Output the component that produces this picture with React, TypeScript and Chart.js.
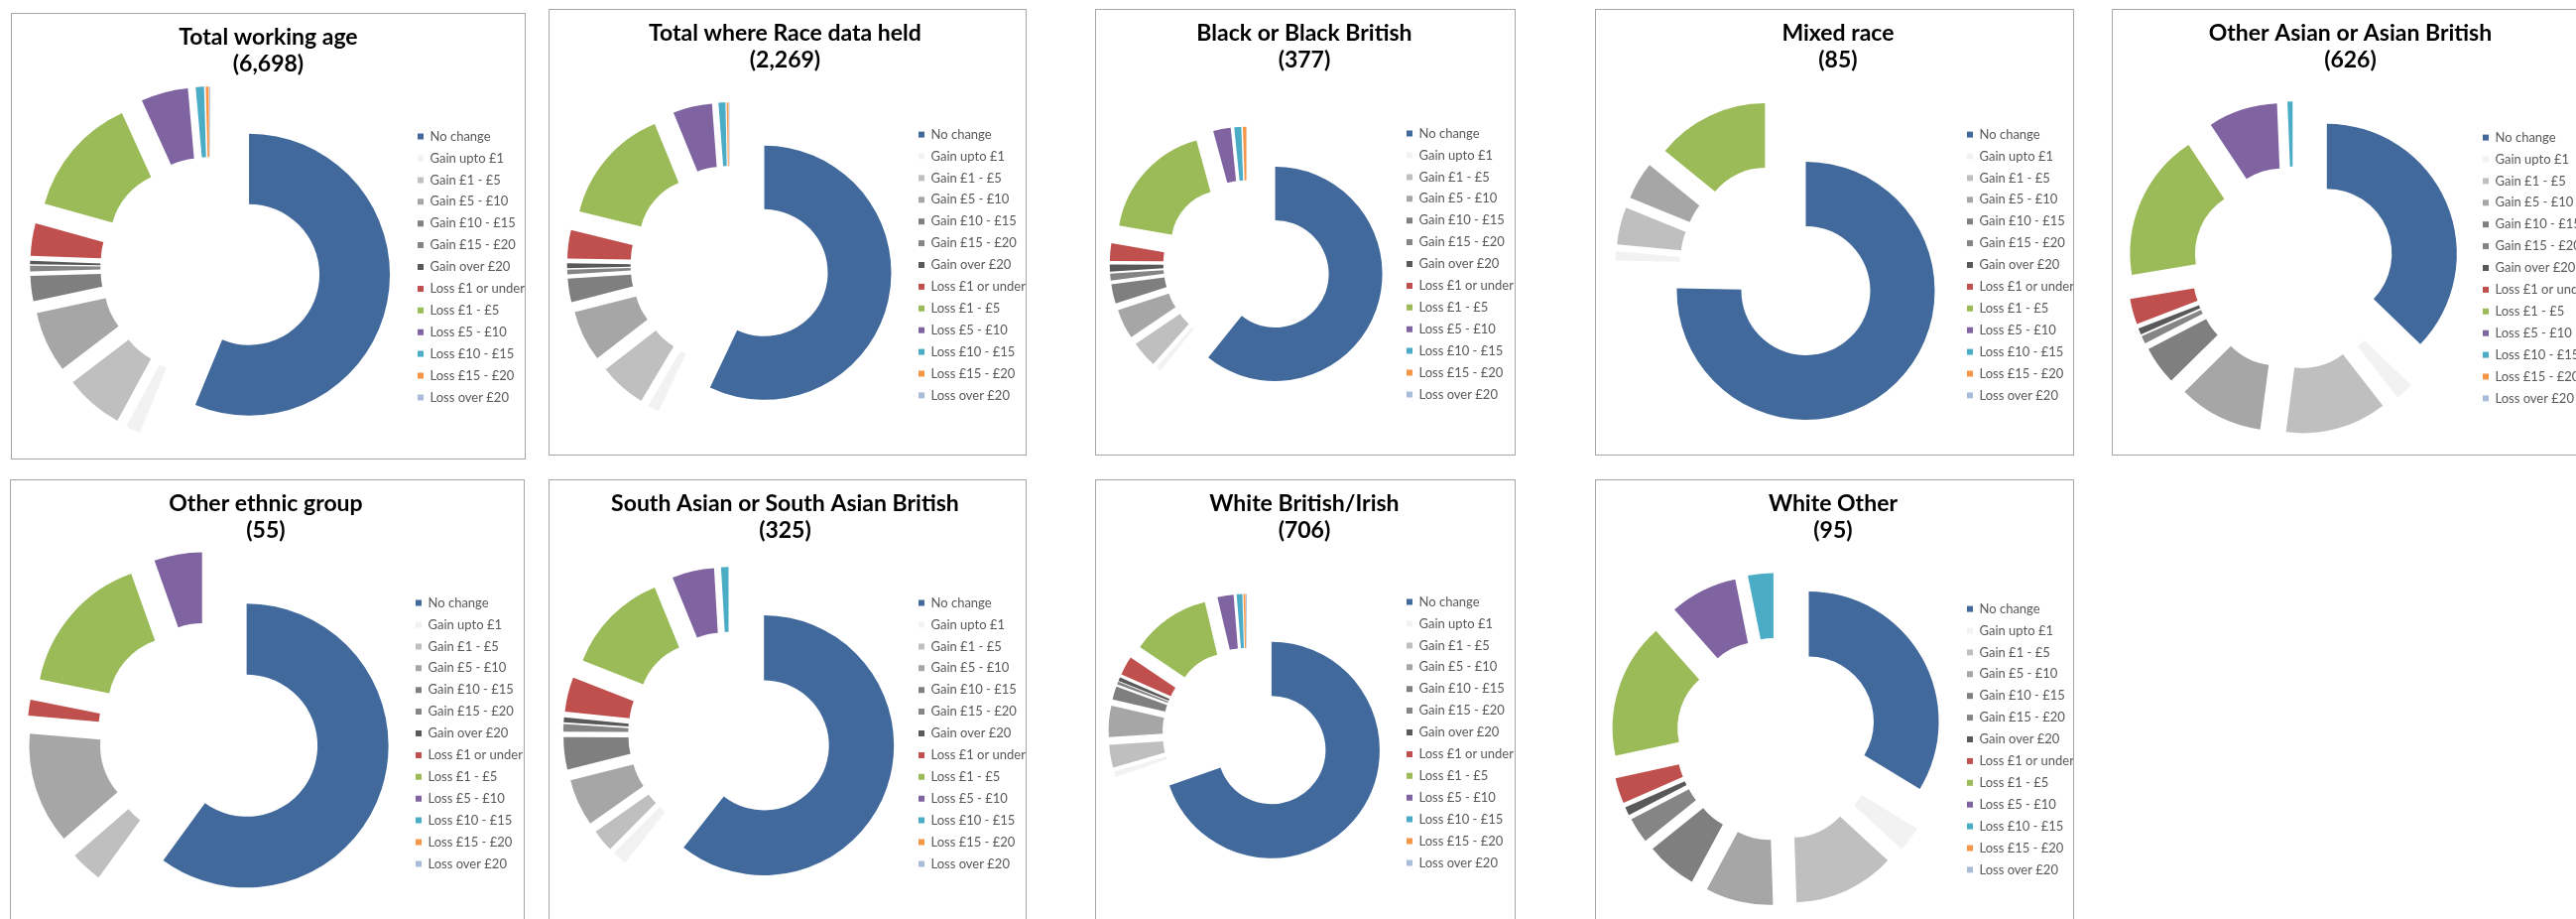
import React, { useEffect, useRef } from 'react';
import { Chart, registerables } from 'chart.js';

Chart.register(...registerables);

// ---------- data ----------
const categories = [
  'No change',
  'Gain upto £1',
  'Gain £1 - £5',
  'Gain £5 - £10',
  'Gain £10 - £15',
  'Gain £15 - £20',
  'Gain over £20',
  'Loss £1 or under',
  'Loss £1 - £5',
  'Loss £5 - £10',
  'Loss £10 - £15',
  'Loss £15 - £20',
  'Loss over £20',
];

const totalWorkingAge = [3766, 114, 449, 469, 194, 44, 27, 248, 931, 362, 64, 23, 7];
const totalRaceHeld = [1294, 34, 136, 147, 68, 14, 14, 82, 340, 113, 20, 5, 2];
const blackBritish = [229, 3, 15, 17, 11, 4, 4, 10, 68, 10, 4, 2, 0];
const mixedRace = [64, 1, 4, 4, 0, 0, 0, 0, 12, 0, 0, 0, 0];
const otherAsian = [233, 14, 79, 66, 30, 6, 5, 20, 115, 54, 4, 0, 0];
const otherEthnic = [33, 0, 2, 7, 0, 0, 0, 1, 9, 3, 0, 0, 0];
const southAsian = [197, 6, 9, 19, 13, 3, 2, 14, 42, 17, 3, 0, 0];
const whiteBritish = [492, 6, 24, 33, 14, 3, 4, 20, 84, 17, 6, 2, 1];
const whiteOther = [32, 3, 12, 8, 6, 3, 1, 3, 16, 8, 3, 0, 0];

const chartTitles = [
  'Total working age',
  'Total where Race data held',
  'Black or Black British',
  'Mixed race',
  'Other Asian or Asian British',
  'Other ethnic group',
  'South Asian or South Asian British',
  'White British/Irish',
  'White Other',
];
const chartSeries = [
  totalWorkingAge,
  totalRaceHeld,
  blackBritish,
  mixedRace,
  otherAsian,
  otherEthnic,
  southAsian,
  whiteBritish,
  whiteOther,
];

// ---------- styles ----------
const sliceColors = [
  '#41699c',
  '#f2f2f2',
  '#bfbfbf',
  '#a6a6a6',
  '#7f7f7f',
  '#858585',
  '#595959',
  '#c0504d',
  '#9bbb59',
  '#8064a2',
  '#4bacc6',
  '#f79646',
  '#a9bddb',
];

const FONT = 'Lato';
const TITLE_SIZE = 23;
const TITLE_LINE = 27;
const TITLE_TOP = 10.5;
const LEGEND_SIZE = 13;
const LEGEND_ROW = 21.9;
const LEGEND_BOX = 6;
const EXPLODE = 0.28;

// panel layout in page pixels: box [x, y, w, h], doughnut centre, outer radius, legend x
const panelLayouts = [
  { box: [11, 13, 519, 450], cx: 212, cy: 269, r: 142, legendX: 421 },
  { box: [553, 9, 482, 450], cx: 733, cy: 267, r: 128, legendX: 926 },
  { box: [1104, 9, 424, 450], cx: 1256, cy: 266, r: 108, legendX: 1418 },
  { box: [1608, 9, 483, 450], cx: 1795, cy: 267, r: 130, legendX: 1983 },
  { box: [2129, 9, 483, 450], cx: 2311, cy: 270, r: 131, legendX: 2503 },
  { box: [10, 483, 519, 450], cx: 209, cy: 739, r: 143, legendX: 419 },
  { box: [553, 483, 482, 450], cx: 733, cy: 739, r: 131, legendX: 926 },
  { box: [1104, 483, 424, 450], cx: 1256, cy: 738, r: 109, legendX: 1418 },
  { box: [1608, 483, 483, 450], cx: 1790, cy: 745, r: 131, legendX: 1983 },
];

// shifts every slice outward along its bisector (Excel "exploded" doughnut)
const explodePlugin = {
  id: 'explode',
  afterDatasetUpdate(chart: any, args: any, opts: any) {
    const d = (opts && opts.distance) || 0;
    const meta = chart.getDatasetMeta(args.index);
    meta.data.forEach((el: any) => {
      const mid = (el.startAngle + el.endAngle) / 2;
      el.x += d * Math.cos(mid);
      el.y += d * Math.sin(mid);
    });
  },
};

function Panel({ index }: { index: number }) {
  const ref = useRef<HTMLCanvasElement>(null);
  const lay = panelLayouts[index];
  const [bx, by, bw, bh] = lay.box;
  const W = bw - 2;
  const H = bh - 2;

  useEffect(() => {
    const canvas = ref.current;
    if (!canvas) return;
    const legendPad = LEGEND_ROW - LEGEND_SIZE;

    const ox = bx + 1;
    const oy = by + 1;
    const cxr = lay.cx - ox;
    const cyr = lay.cy - oy;
    const lxr = lay.legendX - ox;

    const mctx = document.createElement('canvas').getContext('2d') as CanvasRenderingContext2D;
    mctx.font = `${LEGEND_SIZE}px ${FONT}`;
    const maxText = Math.max(...categories.map((c) => mctx.measureText(c).width));
    const natural = legendPad + LEGEND_BOX + LEGEND_SIZE / 2 + maxText + 10;
    const wanted = W - lxr + legendPad;
    const legendW = Math.min(natural, wanted);
    const areaRight = W - legendW;
    const padLeft = 2 * cxr - areaRight;

    const titleBlock = TITLE_TOP + 2 * TITLE_LINE;
    const halfH = Math.min(cyr - titleBlock, H - cyr);
    const titleBottom = cyr - halfH - titleBlock;
    const padBottom = H - (cyr + halfH);

    const data = chartSeries[index];
    const total = data.reduce((a, b) => a + b, 0);

    const chart = new Chart(canvas, {
      type: 'doughnut',
      data: {
        labels: categories,
        datasets: [
          {
            data,
            backgroundColor: sliceColors,
            borderWidth: 0,
            radius: lay.r,
            cutout: '50%',
          } as any,
        ],
      },
      options: {
        responsive: false,
        animation: false,
        devicePixelRatio: 1,
        events: [],
        layout: { padding: { left: padLeft, right: 0, top: 0, bottom: padBottom } },
        plugins: {
          title: {
            display: true,
            text: [chartTitles[index], `(${total.toLocaleString('en-GB')})`],
            color: '#000000',
            font: { family: FONT, size: TITLE_SIZE, weight: 'bold', lineHeight: TITLE_LINE / TITLE_SIZE },
            padding: { top: TITLE_TOP, bottom: titleBottom },
          },
          legend: {
            display: true,
            position: 'right',
            align: 'center',
            fullSize: false,
            maxWidth: wanted,
            labels: {
              boxWidth: LEGEND_BOX,
              boxHeight: LEGEND_BOX,
              padding: legendPad,
              color: '#595959',
              font: { family: FONT, size: LEGEND_SIZE },
            },
          },
          tooltip: { enabled: false },
          explode: { distance: EXPLODE * lay.r },
        } as any,
      },
      plugins: [explodePlugin],
    });
    return () => chart.destroy();
  }, [index]);

  return (
    <div
      style={{
        position: 'absolute',
        left: bx,
        top: by,
        width: bw,
        height: bh,
        boxSizing: 'border-box',
        border: '1px solid #a6a6a6',
        background: '#ffffff',
      }}
    >
      <canvas ref={ref} width={W} height={H} style={{ display: 'block', width: W, height: H }} />
    </div>
  );
}

export default function App() {
  return (
    <div
      style={{
        position: 'fixed',
        left: 0,
        top: 0,
        width: '100vw',
        height: '100vh',
        overflow: 'hidden',
        background: '#ffffff',
      }}
    >
      {panelLayouts.map((_, i) => (
        <Panel key={i} index={i} />
      ))}
    </div>
  );
}
